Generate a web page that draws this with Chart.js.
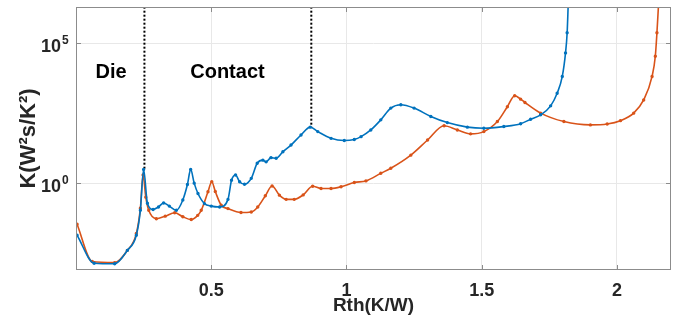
<!DOCTYPE html>
<html lang="en">
<head>
<meta charset="UTF-8">
<title>K vs Rth</title>
<script src="https://cdn.jsdelivr.net/npm/chart.js@4"></script>
<style>
    html, body { margin: 0; padding: 0; background: #fff; }
    #wrap { width: 677px; height: 325px; }
</style>
</head>
<body>
<div id="wrap"><canvas id="chartCanvas"></canvas></div>
<script>
// values
const rthBlue = [0.004, 0.067, 0.143, 0.19, 0.223, 0.238, 0.250, 0.264, 0.285, 0.305, 0.324, 0.345, 0.371,
    0.395, 0.412, 0.424, 0.437, 0.451, 0.475, 0.50, 0.531, 0.562, 0.575, 0.59, 0.605, 0.623, 0.648, 0.67,
    0.691, 0.703, 0.721, 0.740, 0.765, 0.795, 0.832, 0.866, 0.894, 0.943, 0.992, 1.029, 1.054, 1.09, 1.127,
    1.164, 1.201, 1.25, 1.312, 1.373, 1.447, 1.508, 1.582, 1.644, 1.681, 1.718, 1.755, 1.779, 1.798, 1.810,
    1.816, 1.820];
const kBlue = [0.0138, 0.00138, 0.00132, 0.00398, 0.0138, 0.107, 3.09, 0.191, 0.115, 0.141, 0.195, 0.151, 0.107,
    0.251, 0.891, 3.09, 1.0, 0.427, 0.186, 0.151, 0.141, 0.263, 1.26, 1.95, 1.12, 0.912, 1.48, 5.13,
    6.61, 5.75, 8.13, 7.76, 13.2, 22.9, 52.5, 100, 69.2, 39.8, 33.1, 36.3, 45.7, 79.4, 182,
    479, 631, 479, 240, 145, 100, 91.2, 105, 132, 191, 275, 575, 1620, 6460, 44700,
    234000, 2.5e6];

const rthOrange = [0.004, 0.06, 0.143, 0.19, 0.223, 0.238, 0.248, 0.258, 0.269, 0.297, 0.33, 0.365, 0.395,
    0.426, 0.45, 0.463, 0.488, 0.502, 0.515, 0.537, 0.562, 0.61, 0.648, 0.672, 0.700, 0.725, 0.752, 0.777,
    0.807, 0.840, 0.875, 0.906, 0.943, 0.980, 1.029, 1.072, 1.127, 1.164, 1.238, 1.300, 1.361, 1.410, 1.459,
    1.508, 1.558, 1.595, 1.622, 1.644, 1.66, 1.718, 1.804, 1.902, 1.964, 2.013, 2.062, 2.099, 2.130, 2.142,
    2.148, 2.154];
const kOrange = [0.0339, 0.00158, 0.00145, 0.00398, 0.0158, 0.126, 1.95, 0.316, 0.107, 0.0537, 0.0661, 0.0871, 0.0631,
    0.0501, 0.0708, 0.107, 0.49, 1.12, 0.501, 0.162, 0.123, 0.0891, 0.0933, 0.141, 0.355, 0.794, 0.372, 0.263,
    0.263, 0.38, 0.776, 0.646, 0.646, 0.741, 1.05, 1.20, 2.24, 3.39, 10, 34.7, 112, 79.4, 57.5,
    69.2, 158, 537, 1320, 1000, 759, 316, 158, 120, 129, 170, 316, 933, 6460, 33900,
    234000, 2.5e6];

const xTicks = [0.5, 1, 1.5, 2];
const yTicks = [1, 1e5];
const yTickExponents = ['0', '5'];

// dotted boundaries: x position, bottom K value
const boundaryRth = [0.253, 0.87];
const boundaryBottom = [3.1, 100];
const boundaryTop = 2e6;

const regionNames = ['Die', 'Contact'];
const regionRth = [0.13, 0.56];
const regionK = 8600;

const FONT = "'Liberation Sans', Arial, sans-serif";
const TEXT = '#262626';

const toPoints = (xs, ys) => xs.map((x, i) => ({ x: x, y: ys[i] }));

const datasets = [
    {
        data: toPoints(rthBlue, kBlue),
        borderColor: '#0072BD',
        backgroundColor: '#0072BD',
        borderWidth: 1.6,
        pointRadius: 0.9,
        cubicInterpolationMode: 'monotone'
    },
    {
        data: toPoints(rthOrange, kOrange),
        borderColor: '#D95319',
        backgroundColor: '#D95319',
        borderWidth: 1.6,
        pointRadius: 0.9,
        cubicInterpolationMode: 'monotone'
    }
];
boundaryRth.forEach((r, i) => {
    datasets.push({
        data: [{ x: r, y: boundaryTop }, { x: r, y: boundaryBottom[i] }],
        borderColor: '#000',
        borderWidth: 2,
        borderDash: [2, 2],
        pointRadius: 0
    });
});

// frame, inside ticks, 10^n labels and region names
const decorations = {
    id: 'decorations',
    afterDraw(chart) {
        const { ctx, chartArea: a, scales } = chart;
        ctx.save();
        ctx.strokeStyle = '#8c8c8c';
        ctx.lineWidth = 1;
        ctx.strokeRect(a.left + 0.5, a.top + 0.5, a.right - a.left - 1, a.bottom - a.top - 1);
        ctx.beginPath();
        xTicks.forEach(v => {
            const px = Math.round(scales.x.getPixelForValue(v)) + 0.5;
            ctx.moveTo(px, a.bottom); ctx.lineTo(px, a.bottom - 5);
            ctx.moveTo(px, a.top); ctx.lineTo(px, a.top + 5);
        });
        yTicks.forEach(v => {
            const py = Math.round(scales.y.getPixelForValue(v)) + 0.5;
            ctx.moveTo(a.left, py); ctx.lineTo(a.left + 5, py);
            ctx.moveTo(a.right, py); ctx.lineTo(a.right - 5, py);
        });
        ctx.stroke();

        // y tick labels as 10 with raised exponent
        ctx.fillStyle = TEXT;
        ctx.textBaseline = 'alphabetic';
        yTicks.forEach((v, i) => {
            const py = scales.y.getPixelForValue(v);
            ctx.font = 'bold 18px ' + FONT;
            ctx.textAlign = 'right';
            ctx.fillText('10', a.left - 15, py + 9);
            ctx.font = 'bold 12px ' + FONT;
            ctx.textAlign = 'left';
            ctx.fillText(yTickExponents[i], a.left - 14, py + 1);
        });

        ctx.fillStyle = '#000';
        ctx.font = 'bold 20px ' + FONT;
        ctx.textAlign = 'center';
        ctx.textBaseline = 'middle';
        regionNames.forEach((t, i) => {
            ctx.fillText(t, scales.x.getPixelForValue(regionRth[i]), scales.y.getPixelForValue(regionK));
        });
        ctx.restore();
    }
};

new Chart(document.getElementById('chartCanvas'), {
    type: 'line',
    data: { datasets: datasets },
    options: {
        responsive: true,
        maintainAspectRatio: false,
        devicePixelRatio: 1,
        animation: false,
        layout: { padding: { top: 7, right: 6, left: 0, bottom: 0 } },
        plugins: { legend: { display: false }, tooltip: { enabled: false } },
        scales: {
            x: {
                type: 'linear',
                min: 0,
                max: 2.2,
                afterBuildTicks: s => { s.ticks = xTicks.map(v => ({ value: v })); },
                afterFit: s => { s.height = 55; },
                grid: { color: '#e8e8e8', drawTicks: false },
                border: { display: false },
                ticks: {
                    padding: 10,
                    color: TEXT,
                    font: { family: FONT, size: 18, weight: 'bold' },
                    callback: v => String(v)
                },
                title: {
                    display: true,
                    text: 'Rth(K/W)',
                    color: TEXT,
                    padding: { top: 0, bottom: 8 },
                    font: { family: FONT, size: 19, weight: 'bold' }
                }
            },
            y: {
                type: 'logarithmic',
                min: 7.9e-4,
                max: 1.95e6,
                afterBuildTicks: s => { s.ticks = yTicks.map(v => ({ value: v })); },
                afterFit: s => { s.width = 76; },
                grid: { color: '#e8e8e8', drawTicks: false },
                border: { display: false },
                ticks: { display: false },
                title: {
                    display: true,
                    text: 'K(W\u00b2s/K\u00b2)',
                    color: TEXT,
                    padding: { top: 16, bottom: 0 },
                    font: { family: FONT, size: 22, weight: 'bold' }
                }
            }
        }
    },
    plugins: [decorations]
});
</script>
</body>
</html>
